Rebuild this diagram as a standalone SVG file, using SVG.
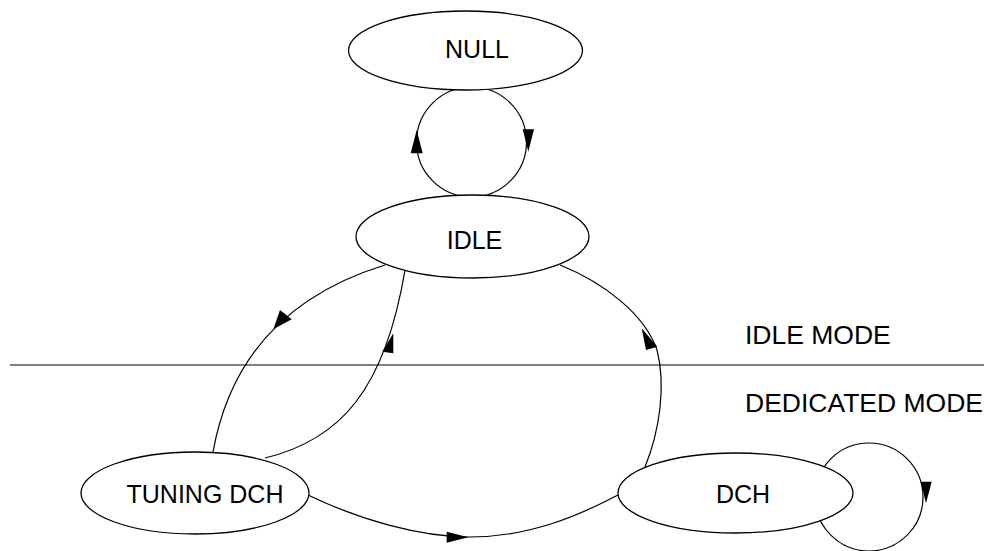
<svg xmlns="http://www.w3.org/2000/svg" width="988" height="551" viewBox="0 0 988 551">
<style>
.edge{fill:none;stroke:#000;stroke-width:1.2}
.head{fill:#000;stroke:none}
.node ellipse{fill:#fff;stroke:#000;stroke-width:1.3}
.lbl{font-family:"Liberation Sans",Arial,sans-serif;font-size:25px;fill:#000;text-anchor:middle}
.mode{font-family:"Liberation Sans",Arial,sans-serif;font-size:26.5px;fill:#000}
</style>
<rect width="988" height="551" fill="#fff"/>
<line x1="10" y1="365" x2="984" y2="365" stroke="#000" stroke-width="1.2"/>
<text class="mode" x="745" y="344">IDLE MODE</text>
<text class="mode" x="745" y="412">DEDICATED MODE</text>
<g id="connectors">
<circle class="edge" cx="471.5" cy="142" r="55"/>
<polygon class="head" points="416.7,130 410.7,153.3 422.7,153.3"/>
<polygon class="head" points="522.7,129.3 534,129.3 528.3,151.7"/>
<path class="edge" d="M385,265 C320,285 235,330 213,452"/>
<polygon class="head" points="273.3,329.3 280,310 291.7,319.3"/>
<path class="edge" d="M265,458 C340,440 385,390 405,270"/>
<polygon class="head" points="393.3,333.3 382.3,351.7 393.3,353.3"/>
<path class="edge" d="M645,467 C660,430 666,385 657,350 C645,315 605,283 560,265"/>
<polygon class="head" points="641.7,328.3 646,350 657.3,346.7"/>
<path class="edge" d="M308,495 C360,520 420,537 470,537 C530,537 580,515 618,495"/>
<polygon class="head" points="468.3,537.3 446.7,531.7 446.7,542.7"/>
<circle class="edge" cx="869" cy="497" r="54"/>
<polygon class="head" points="920.7,481.7 931.7,481.7 926,503.3"/>
</g>
<g id="node-null" class="node"><ellipse cx="465.5" cy="50.5" rx="117" ry="39.5"/><text class="lbl" x="477" y="58">NULL</text></g>
<g id="node-idle" class="node"><ellipse cx="472.5" cy="236.5" rx="116.5" ry="41.5"/><text class="lbl" x="474.5" y="249">IDLE</text></g>
<g id="node-tuning" class="node"><ellipse cx="195" cy="493" rx="114" ry="41"/><text class="lbl" x="205" y="503">TUNING DCH</text></g>
<g id="node-dch" class="node"><ellipse cx="735.5" cy="493" rx="117.5" ry="40"/><text class="lbl" x="743" y="503">DCH</text></g>
</svg>
